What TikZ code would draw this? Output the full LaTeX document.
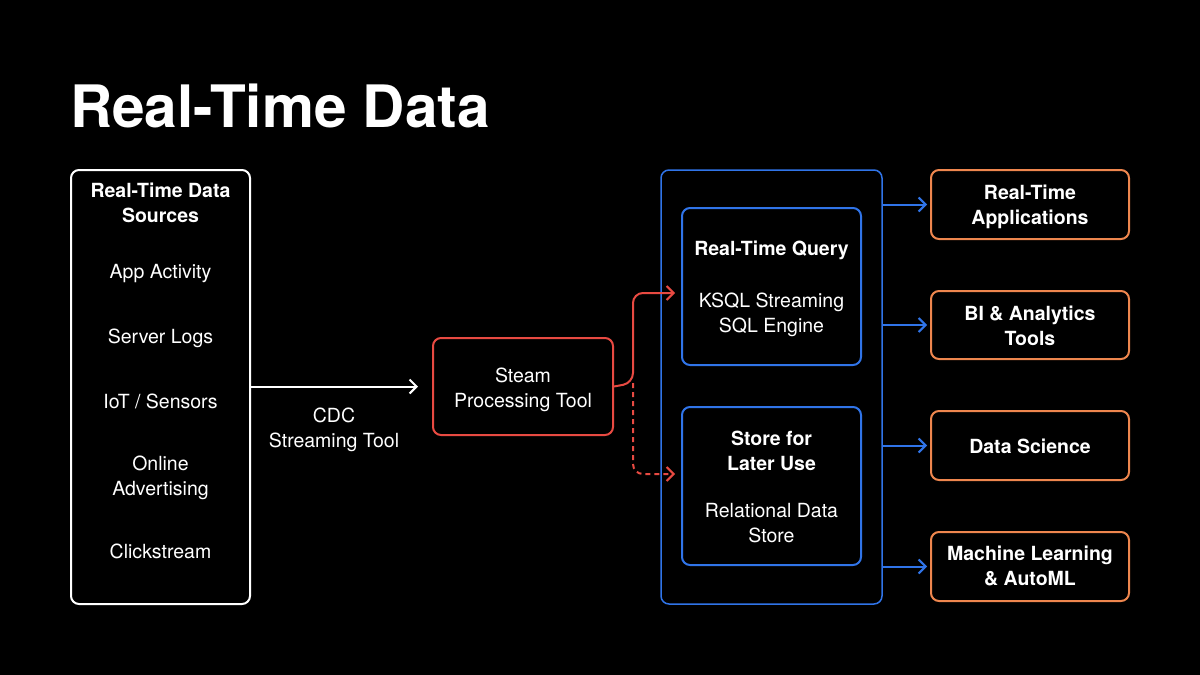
\documentclass[tikz,border=0pt]{standalone}
\usepackage{fontspec}
\setmainfont{TeX Gyre Heros}
\usetikzlibrary{arrows.meta,positioning}
\definecolor{flowred}{RGB}{232,74,66}
\definecolor{flowblue}{RGB}{48,116,232}
\definecolor{outorange}{RGB}{238,134,78}

\tikzset{
  panel/.style={draw, rounded corners=8pt, line width=2pt, inner sep=0pt},
  % base anchor of a two-line node sits on its last line
  body/.style={text=white, anchor=base, align=center,
    font=\fontsize{19.5}{24.5}\selectfont},
  head/.style={body, font=\fontsize{19.5}{24.5}\selectfont\bfseries},
  tip/.style={-{Straight Barb[length=7pt,width=14pt]}, line width=2pt},
}

\begin{document}
\begin{tikzpicture}[x=1pt, y=-1pt]

  % page
  \fill[black] (0,0) rectangle (1200,675);
  \useasboundingbox (0,0) rectangle (1200,675);

  \node[text=white, anchor=base west, inner sep=0pt,
    font=\fontsize{58.5}{62}\selectfont\bfseries] (title) at (70,127) {Real-Time Data};

  % sources
  \node[panel, white, minimum width=179pt, minimum height=434pt] (sources) at (160.5,387) {};
  \node[head] (srchead) at (160.5,222) {Real-Time Data\\Sources};
  \node[body] (app) at (160.5,278) {App Activity};
  \node[body] (logs) at (160.5,343) {Server Logs};
  \node[body] (iot) at (160.5,408) {IoT / Sensors};
  \node[body] (ads) at (160.5,495) {Online\\Advertising};
  \node[body] (click) at (160.5,558) {Clickstream};

  % stream processing
  \node[panel, flowred, minimum width=180pt, minimum height=97pt] (stream) at (523,386.5) {};
  \node[body] (streamtxt) at (523,407) {Steam\\Processing Tool};

  \draw[white, tip, shorten >=14pt] (sources.east |- stream.west) -- (stream.west);
  \node[body] (cdc) at (334,447) {CDC\\Streaming Tool};

  % query and store
  \node[panel, flowblue, line width=1.5pt, minimum width=221pt, minimum height=434pt] (engine) at (771.5,387) {};
  \node[panel, flowblue, minimum width=179pt, minimum height=157pt] (query) at (771.5,286.5) {};
  \node[head] (queryhead) at (771.5,255) {Real-Time Query};
  \node[body] (querytxt) at (771.5,332) {KSQL Streaming\\SQL Engine};
  \node[panel, flowblue, minimum width=179pt, minimum height=158pt] (store) at (771.5,486) {};
  \node[head] (storehead) at (771.5,470) {Store for\\Later Use};
  \node[body] (storetxt) at (771.5,542) {Relational Data\\Store};

  \coordinate (fork) at (633,383);
  \coordinate (queryin) at (675,293);
  \coordinate (storein) at (675,474);
  \draw[flowred, tip, rounded corners=10pt] (stream.east) -- (fork) |- (queryin);
  \draw[flowred, tip, dashed, dash pattern=on 5pt off 4pt, rounded corners=10pt] (fork) |- (storein);

  % outputs
  \node[panel, outorange, minimum width=198pt, minimum height=69pt] (apps) at (1030,204.5) {};
  \node[head] (appstxt) at (1030,224) {Real-Time\\Applications};
  \node[panel, outorange, minimum width=198pt, minimum height=68pt] (bi) at (1030,325) {};
  \node[head] (bitxt) at (1030,345) {BI \& Analytics\\Tools};
  \node[panel, outorange, minimum width=198pt, minimum height=69pt] (science) at (1030,445.5) {};
  \node[head] (sciencetxt) at (1030,453) {Data Science};
  \node[panel, outorange, minimum width=198pt, minimum height=69pt] (ml) at (1030,566.5) {};
  \node[head] (mltxt) at (1030,585) {Machine Learning\\\& AutoML};

  \foreach \out in {apps,bi,science,ml}
    \draw[flowblue, tip, shorten >=3pt] (engine.east |- \out.west) -- (\out.west);

\end{tikzpicture}
\end{document}
